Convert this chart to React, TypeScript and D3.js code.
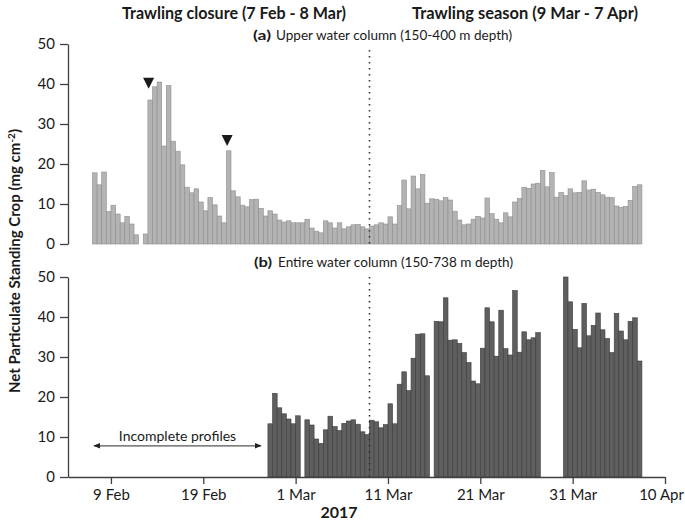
import { useEffect, useRef } from 'react';
import * as d3 from 'd3';

// half-day bins; upper water column starts 7 Feb 2017, entire column 26 Feb 2017
const HALF_DAY = 12 * 3600 * 1000;
const UPPER_START = Date.UTC(2017, 1, 7);
const ENTIRE_START = Date.UTC(2017, 1, 26);

const upperColumn: (number | null)[] = [
  17.8, 14.8, 18, 8.1, 9.7, 7.5, 5.3, 6.9, 5, 2.3,
  null, 2.5, 36, 39.3, 40.5, 24.5, 39.6, 25.7, 23.2, 19.8,
  14.2, 12.8, 13.8, 10.5, 8.3, 11.6, 9.8, 7, 5.3, 23.3,
  13.3, 11.8, 9.7, 9.3, 11.1, 11.2, 8.9, 7, 8.3, 7.5,
  6, 5.5, 5.8, 5.3, 5.3, 5.3, 6.2, 4, 3.2, 2.8,
  5.8, 5.3, 4, 5.3, 3.8, 4.3, 4.8, 4.9, 4.3, 3.8,
  4.5, 4.8, 5.3, 5, 6.8, 5, 9.6, 16, 8.8, 17,
  13.8, 17.4, 10.2, 11.3, 11.2, 10.8, 11.6, 11, 8.2, 6,
  4.8, 5, 6.2, 6.9, 6.5, 11.5, 7.6, 6.2, 5.3, 7.8,
  6.8, 10.5, 11.4, 14.2, 13.9, 15, 15.2, 18.4, 14.3, 17.9,
  11.7, 12.9, 12.1, 13.8, 12.8, 12.9, 15.8, 13.5, 13.7, 12.9,
  12.3, 11.7, 11.6, 9.5, 9.2, 9.4, 10.9, 14.4, 14.8,
];

const entireColumn: (number | null)[] = [
  13.3, 20.9,
  17.3, 15.8, 14.5, 13.3, 15.3, null, 14.3, 13, 9.5, 8.4,
  11.8, 15.2, 12.6, 11.6, 13.4, 14, 14.3, 13.2, 11.3, 10.6,
  14.2, 13.8, 12.3, 13.1, 18.3, 13.3, 23.2, 26.3, 21.6, 29.7,
  35.7, 35.8, 25.3, null, 38.9, 38.8, 44.8, 34.2, 34.3, 33.4,
  31.1, 28.6, 24, 23.3, 32.2, 42.3, 38.8, 30.2, 41.7, 32.1,
  30.5, 46.6, 31.2, 36.3, 34.3, 34.8, 36.1, null, null, null,
  null, null, 50, 43.8, 36.9, 32.3, 43.4, 35.3, 37.9, 41,
  36.8, 34.6, 31.1, 40.9, 36.5, 34.3, 38.9, 39.8, 29,
];

// inverted triangles in panel (a)
const markerDates = [Date.UTC(2017, 1, 13, 2), Date.UTC(2017, 1, 21, 14)];
const markerValues = [38.8, 24.5];

const yTicks = [0, 10, 20, 30, 40, 50];
const xTickDates = [
  Date.UTC(2017, 1, 9), Date.UTC(2017, 1, 19), Date.UTC(2017, 2, 1),
  Date.UTC(2017, 2, 11), Date.UTC(2017, 2, 21), Date.UTC(2017, 2, 31),
  Date.UTC(2017, 3, 10),
];
const xTickLabels = ['9 Feb', '19 Feb', '1 Mar', '11 Mar', '21 Mar', '31 Mar', '10 Apr'];

const seasonSplit = Date.UTC(2017, 2, 9);
const incompleteRange = [Date.UTC(2017, 1, 7, 4), Date.UTC(2017, 1, 25, 6)];
const incompleteLevel = 7.8;

const FONT = 'Lato, "Open Sans", sans-serif';
const TEXT = '#1a1a1a';
const AXIS = '#404040';

export default function App() {
  const svgRef = useRef<SVGSVGElement>(null);

  useEffect(() => {
    if (!svgRef.current) return;
    const svg = d3.select(svgRef.current);
    svg.selectAll('*').remove();

    const x = d3
      .scaleUtc()
      .domain([Date.UTC(2017, 1, 4, 8, 24), Date.UTC(2017, 3, 10)])
      .range([68, 665]);
    const yTop = d3.scaleLinear().domain([0, 50]).range([244, 44]);
    const yBot = d3.scaleLinear().domain([0, 50]).range([477, 277]);

    const defs = svg.append('defs');
    defs
      .append('marker')
      .attr('id', 'arrow')
      .attr('viewBox', '0 0 10 10')
      .attr('refX', 9)
      .attr('refY', 5)
      .attr('markerWidth', 7)
      .attr('markerHeight', 7)
      .attr('orient', 'auto-start-reverse')
      .attr('markerUnits', 'userSpaceOnUse')
      .append('path')
      .attr('d', 'M0,1 L10,5 L0,9 Z')
      .attr('fill', '#222');

    const toBars = (vals: (number | null)[], start: number) =>
      vals
        .map((v, i) => ({ t: start + i * HALF_DAY, v }))
        .filter((d) => d.v != null) as { t: number; v: number }[];

    // panel (a)
    svg
      .append('g')
      .selectAll('rect')
      .data(toBars(upperColumn, UPPER_START))
      .join('rect')
      .attr('x', (d) => x(d.t))
      .attr('width', (d) => x(d.t + HALF_DAY) - x(d.t))
      .attr('y', (d) => yTop(d.v))
      .attr('height', (d) => yTop(0) - yTop(d.v))
      .attr('fill', '#b3b3b3')
      .attr('stroke', '#8e8e8e')
      .attr('stroke-width', 0.6);

    // panel (b)
    svg
      .append('g')
      .selectAll('rect')
      .data(toBars(entireColumn, ENTIRE_START))
      .join('rect')
      .attr('x', (d) => x(d.t))
      .attr('width', (d) => x(d.t + HALF_DAY) - x(d.t))
      .attr('y', (d) => yBot(d.v))
      .attr('height', (d) => yBot(0) - yBot(d.v))
      .attr('fill', '#5f5f5f')
      .attr('stroke', '#3b3b3b')
      .attr('stroke-width', 0.6);

    // triangles
    svg
      .append('g')
      .selectAll('path')
      .data(markerDates.map((t, i) => ({ t, v: markerValues[i] })))
      .join('path')
      .attr('transform', (d) => `translate(${x(d.t)},${yTop(d.v)})`)
      .attr('d', 'M-5.5,-11 L5.5,-11 L0,0 Z')
      .attr('fill', '#1a1a1a');

    // season boundary
    [
      [yTop(50) + 6, yTop(0)],
      [yBot(50), yBot(0)],
    ].forEach(([y1, y2]) => {
      svg
        .append('line')
        .attr('x1', x(seasonSplit))
        .attr('x2', x(seasonSplit))
        .attr('y1', y1)
        .attr('y2', y2)
        .attr('stroke', '#333')
        .attr('stroke-width', 1.6)
        .attr('stroke-dasharray', '1.6,4.4');
    });

    const styleAxis = (sel: d3.Selection<SVGGElement, unknown, null, undefined>) => {
      sel.select('.domain').attr('stroke', AXIS).attr('stroke-width', 1.3);
      sel.selectAll('.tick line').attr('stroke', AXIS).attr('stroke-width', 1.3);
      sel
        .selectAll('.tick text')
        .attr('fill', TEXT)
        .style('font-family', FONT)
        .style('font-size', '15px');
    };

    svg
      .append('g')
      .attr('transform', 'translate(68,0)')
      .call(d3.axisLeft(yTop).tickValues(yTicks).tickSize(8).tickSizeOuter(0).tickPadding(5))
      .call(styleAxis);

    svg
      .append('g')
      .attr('transform', 'translate(68,0)')
      .call(d3.axisLeft(yBot).tickValues(yTicks).tickSize(8).tickSizeOuter(0).tickPadding(5))
      .call(styleAxis);

    const xAxis = svg
      .append('g')
      .attr('transform', `translate(0,${yBot(0)})`)
      .call(
        d3
          .axisBottom(x)
          .tickValues(xTickDates.map((d) => new Date(d)))
          .tickFormat((_, i) => xTickLabels[i])
          .tickSize(7)
          .tickSizeOuter(0)
          .tickPadding(5)
      )
      .call(styleAxis);
    // last label sits against the right edge
    xAxis.selectAll<SVGTextElement, unknown>('.tick text').filter((_, i) => i === xTickLabels.length - 1).attr('dx', -4);

    // incomplete profiles annotation
    svg
      .append('line')
      .attr('x1', x(incompleteRange[0]))
      .attr('x2', x(incompleteRange[1]))
      .attr('y1', yBot(incompleteLevel))
      .attr('y2', yBot(incompleteLevel))
      .attr('stroke', '#555')
      .attr('stroke-width', 1.3)
      .attr('marker-start', 'url(#arrow)')
      .attr('marker-end', 'url(#arrow)');
    svg
      .append('text')
      .attr('x', (x(incompleteRange[0]) + x(incompleteRange[1])) / 2)
      .attr('y', yBot(incompleteLevel) - 5)
      .attr('text-anchor', 'middle')
      .attr('fill', TEXT)
      .style('font-family', FONT)
      .style('font-size', '14px')
      .text('Incomplete profiles');

    // plain text helper with a fixed width
    const label = (
      s: string,
      x0: number,
      y0: number,
      w: number,
      size: number,
      bold: boolean
    ) =>
      svg
        .append('text')
        .attr('x', x0)
        .attr('y', y0)
        .attr('textLength', w)
        .attr('lengthAdjust', 'spacingAndGlyphs')
        .attr('fill', TEXT)
        .style('font-family', FONT)
        .style('font-size', `${size}px`)
        .style('font-weight', bold ? 'bold' : 'normal')
        .text(s);

    label('Trawling closure (7 Feb - 8 Mar)', 122, 19, 224, 17, true);
    label('Trawling season (9 Mar - 7 Apr)', 412, 19, 226, 17, true);

    label('(a)', 253, 40, 18, 14, true);
    label('Upper water column (150-400 m depth)', 276, 40, 236, 14, false);
    label('(b)', 254, 267, 18, 14, true);
    label('Entire water column (150-738 m depth)', 278, 267, 235, 14, false);

    // y label
    const yl = svg
      .append('text')
      .attr('transform', 'translate(20,261) rotate(-90)')
      .attr('text-anchor', 'middle')
      .attr('fill', TEXT)
      .style('font-family', FONT)
      .style('font-size', '15px')
      .style('font-weight', 'bold');
    yl.append('tspan').text('Net Particulate Standing Crop (mg cm');
    yl.append('tspan').attr('dy', -5).style('font-size', '10px').text('-2');
    yl.append('tspan').attr('dy', 5).text(')');

    svg
      .append('text')
      .attr('x', 339)
      .attr('y', 518)
      .attr('text-anchor', 'middle')
      .attr('fill', TEXT)
      .style('font-family', FONT)
      .style('font-size', '16px')
      .style('font-weight', 'bold')
      .text('2017');
  }, []);

  return (
    <svg
      ref={svgRef}
      width={685}
      height={523}
      style={{ position: 'absolute', left: 0, top: 0, background: '#fff' }}
    />
  );
}
